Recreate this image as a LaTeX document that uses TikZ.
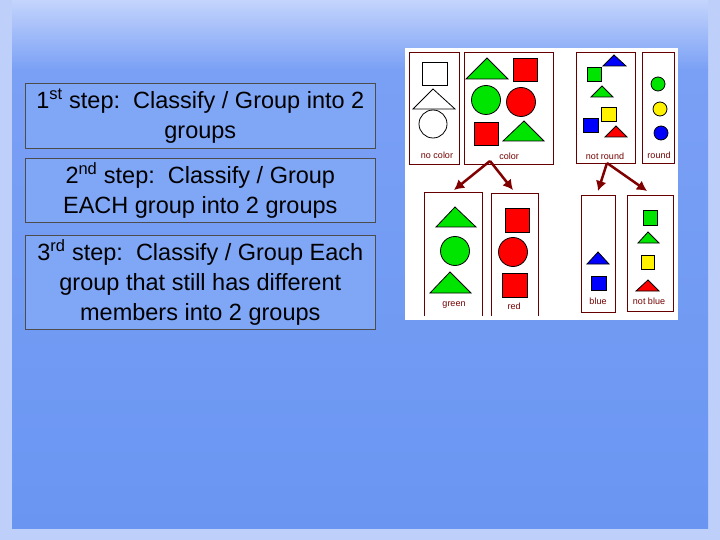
\documentclass[tikz,border=0pt]{standalone}
\usepackage{fontspec}
\setmainfont{Liberation Sans}
\usetikzlibrary{arrows.meta}
\definecolor{bgtop}{RGB}{196,212,252}
\definecolor{bgmid}{RGB}{122,160,245}
\definecolor{bgbot}{RGB}{106,150,242}
\definecolor{edge}{RGB}{190,208,250}
\definecolor{boxfill}{RGB}{128,166,246}
\begin{document}
\begin{tikzpicture}[x=1pt,y=-1pt,
  stepbox/.style={draw=black!70,fill=boxfill,line width=0.6pt},
  steptext/.style={font=\fontsize{23.5}{30}\selectfont,align=center,text=black},
  pbox/.style={draw=red!40!black,line width=0.8pt},
  lbl/.style={font=\fontsize{9}{10}\selectfont,text=red!45!black},
  sh/.style={draw=black,line width=0.8pt},
  arr/.style={draw=red!50!black,line width=2.5pt,-{Latex[length=10pt,width=11pt]}}]
\useasboundingbox (0,0) rectangle (720,540);
\fill[edge] (0,0) rectangle (720,540);
\shade[top color=bgtop, bottom color=bgmid] (12,0) rectangle (708,70);
\shade[top color=bgmid, bottom color=bgbot] (12,70) rectangle (708,528);
% text boxes
\node[stepbox,minimum width=350pt,minimum height=65pt,anchor=north west,inner sep=0pt] (s1) at (25,83) {};
\node[steptext] (t1) at (s1.center) {1\textsuperscript{st} step:\ \ Classify / Group into 2\\groups};
\node[stepbox,minimum width=350pt,minimum height=64pt,anchor=north west,inner sep=0pt] (s2) at (25,158) {};
\node[steptext] (t2) at (s2.center) {2\textsuperscript{nd} step:\ \ Classify / Group\\EACH group into 2 groups};
\node[stepbox,minimum width=350pt,minimum height=94pt,anchor=north west,inner sep=0pt] (s3) at (25,235) {};
\node[steptext] (t3) at (s3.center) {3\textsuperscript{rd} step:\ \ Classify / Group Each\\group that still has different\\members into 2 groups};
% picture panel
\fill[white] (405,48) rectangle (678,320);
\draw[pbox] (409,52) rectangle (459,164);
\draw[pbox] (464,52) rectangle (553,164);
\draw[pbox] (576,52) rectangle (635,163);
\draw[pbox] (642,52) rectangle (674,163);
\draw[pbox] (424,316) -- (424,192) -- (482,192) -- (482,316);
\draw[pbox] (491,316) -- (491,193) -- (538,193) -- (538,316);
\draw[pbox] (581,195) rectangle (615,312);
\draw[pbox] (627,195) rectangle (673,311);
% no color
\draw[sh] (422,62) rectangle (447,85);
\draw[sh] (433,89) -- (455,109) -- (413,109) -- cycle;
\draw[sh] (433,124) circle (14);
\node[lbl] (l1) at (437,155) {no color};
% color
\draw[sh,fill=green!90!black] (487,58) -- (508,79) -- (466,79) -- cycle;
\draw[sh,fill=red] (513,58) rectangle (537,81);
\draw[sh,fill=green!90!black] (486,100) circle (14.5);
\draw[sh,fill=red] (521,102) circle (14.5);
\draw[sh,fill=red] (474,122) rectangle (498,145);
\draw[sh,fill=green!90!black] (524,121) -- (544,141) -- (503,141) -- cycle;
\node[lbl] (l2) at (509,156) {color};
% not round
\draw[sh,fill=blue] (614,55) -- (626,66) -- (603,66) -- cycle;
\draw[sh,fill=green!90!black] (587,67) rectangle (601,81);
\draw[sh,fill=green!90!black] (602,86) -- (613,97) -- (591,97) -- cycle;
\draw[sh,fill=yellow] (601,107) rectangle (616,121);
\draw[sh,fill=blue] (583,118) rectangle (598,132);
\draw[sh,fill=red] (616,126) -- (627,137) -- (605,137) -- cycle;
\node[lbl] (l3) at (605,156) {not round};
% round
\draw[sh,fill=green!90!black] (658,84) circle (7);
\draw[sh,fill=yellow] (660,109) circle (7);
\draw[sh,fill=blue] (661,133) circle (7);
\node[lbl] (l4) at (659,155) {round};
% arrows
\coordinate (c1) at (490,161);
\coordinate (g1) at (454,190);
\coordinate (r1) at (513,190);
\coordinate (c2) at (607,163);
\coordinate (b1) at (598,191);
\coordinate (n1) at (647,191);
\draw[arr] (c1) -- (g1);
\draw[arr] (c1) -- (r1);
\draw[arr] (c2) -- (b1);
\draw[arr] (c2) -- (n1);
% green
\draw[sh,fill=green!90!black] (455,207) -- (476,227) -- (436,227) -- cycle;
\draw[sh,fill=green!90!black] (455,251) circle (14.5);
\draw[sh,fill=green!90!black] (450,272) -- (471,293) -- (430,293) -- cycle;
\node[lbl] (l5) at (454,305) {green};
% red
\draw[sh,fill=red] (505,208) rectangle (529,232);
\draw[sh,fill=red] (513,252) circle (14.5);
\draw[sh,fill=red] (502,273) rectangle (527,297);
\node[lbl] (l6) at (514,306) {red};
% blue
\draw[sh,fill=blue] (598,252) -- (609,264) -- (587,264) -- cycle;
\draw[sh,fill=blue] (591,276) rectangle (606,290);
\node[lbl] (l7) at (598,301) {blue};
% not blue
\draw[sh,fill=green!90!black] (643,210) rectangle (657,225);
\draw[sh,fill=green!90!black] (648,232) -- (659,243) -- (638,243) -- cycle;
\draw[sh,fill=yellow] (641,255) rectangle (654,269);
\draw[sh,fill=red] (648,280) -- (659,291) -- (636,291) -- cycle;
\node[lbl] (l8) at (649,301) {not blue};
\end{tikzpicture}
\end{document}
